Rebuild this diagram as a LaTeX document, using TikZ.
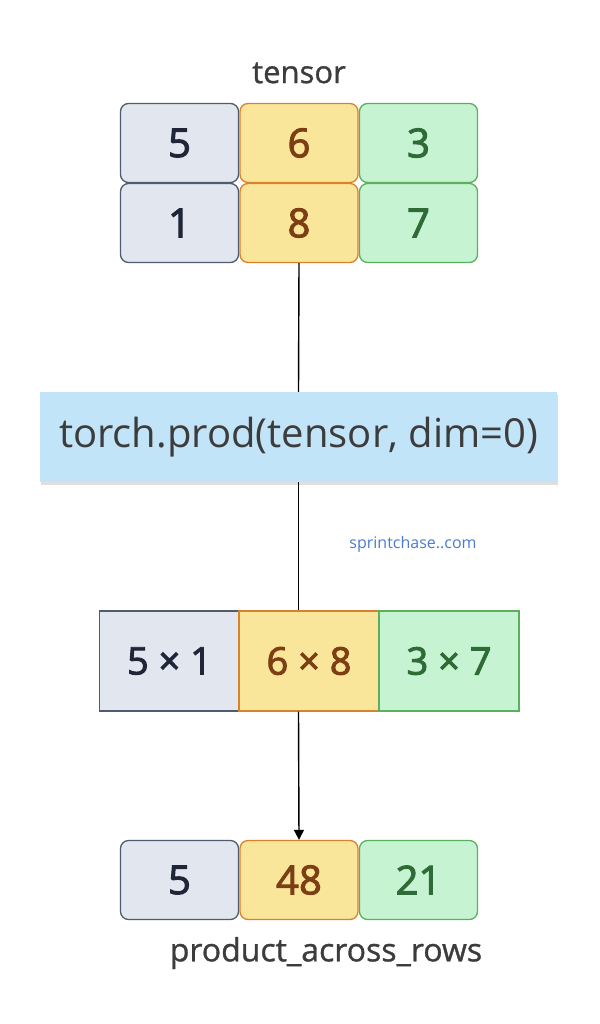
\documentclass[tikz,border=0pt]{standalone}
\usepackage{fontspec}
\setmainfont{Open Sans}
\newfontfamily\semib[FakeBold=2.5]{Open Sans}
\newfontfamily\medf[FakeBold=1]{Open Sans}
\usetikzlibrary{shadows,arrows.meta}
\definecolor{gfill}{HTML}{E2E6EF}
\definecolor{gdraw}{HTML}{4F5B6E}
\definecolor{gtext}{HTML}{1E2638}
\definecolor{yfill}{HTML}{FAE69A}
\definecolor{ydraw}{HTML}{D9822B}
\definecolor{ytext}{HTML}{7C3F14}
\definecolor{efill}{HTML}{C6F4D2}
\definecolor{edraw}{HTML}{5AB05E}
\definecolor{etext}{HTML}{2E6B36}
\definecolor{bfill}{HTML}{C2E4F8}
\definecolor{dtext}{HTML}{3C3C3C}
\definecolor{link}{HTML}{4A7BD0}
\tikzset{
  x=1pt,y=-1pt,
  cell/.style={draw,line width=1.3pt,minimum width=118pt,minimum height=79pt,inner sep=0pt,rounded corners=8pt,font=\semib\fontsize{40}{46}\selectfont},
  gcell/.style={cell,fill=gfill,draw=gdraw,text=gtext},
  ycell/.style={cell,fill=yfill,draw=ydraw,text=ytext},
  ecell/.style={cell,fill=efill,draw=edraw,text=etext},
  mcell/.style={minimum width=140pt,minimum height=100pt,rounded corners=0pt,font=\semib\fontsize{38}{44}\selectfont},
  lbl/.style={text=dtext,inner sep=0pt},
  conn/.style={line width=1.4pt,black},
}
\begin{document}
\begin{tikzpicture}
\useasboundingbox (0,0) rectangle (599,1024);
\node[lbl,font=\medf\fontsize{31}{36}\selectfont] (tl) at (299,73) {tensor};
\node[gcell] (a1) at (179.5,143) {5};
\node[ycell] (b1) at (299,143) {6};
\node[ecell] (c1) at (418.5,143) {3};
\node[gcell] (a2) at (179.5,223) {1};
\node[ycell] (b2) at (299,223) {8};
\node[ecell] (c2) at (418.5,223) {7};
\node[fill=bfill,minimum width=517pt,minimum height=90pt,inner sep=0pt,text=dtext,font=\fontsize{40}{46}\selectfont,drop shadow={shadow xshift=1pt,shadow yshift=-3pt,opacity=0.25}] (op) at (298.5,437) {torch.prod(tensor, dim=0)};
\node[text=link,font=\fontsize{16}{19}\selectfont,inner sep=0pt] (wm) at (413,544) {sprintchase..com};
\node[gcell,mcell] (m1) at (169.5,661) {5 × 1};
\node[ycell,mcell] (m2) at (309,661) {6 × 8};
\node[ecell,mcell] (m3) at (449,661) {3 × 7};
\node[gcell] (r1) at (179.5,880) {5};
\node[ycell] (r2) at (299,880) {48};
\node[ecell] (r3) at (418.5,880) {21};
\node[lbl,font=\medf\fontsize{32}{37}\selectfont] (rl) at (326,953) {product\_across\_rows};
\draw[conn] (b2.south) -- (op.north);
\draw[conn] (op.south) -- (op.south |- m2.north);
\draw[conn,-{Triangle[length=10pt,width=10pt]}] (op.south |- m2.south) -- (r2.north);
\end{tikzpicture}
\end{document}
